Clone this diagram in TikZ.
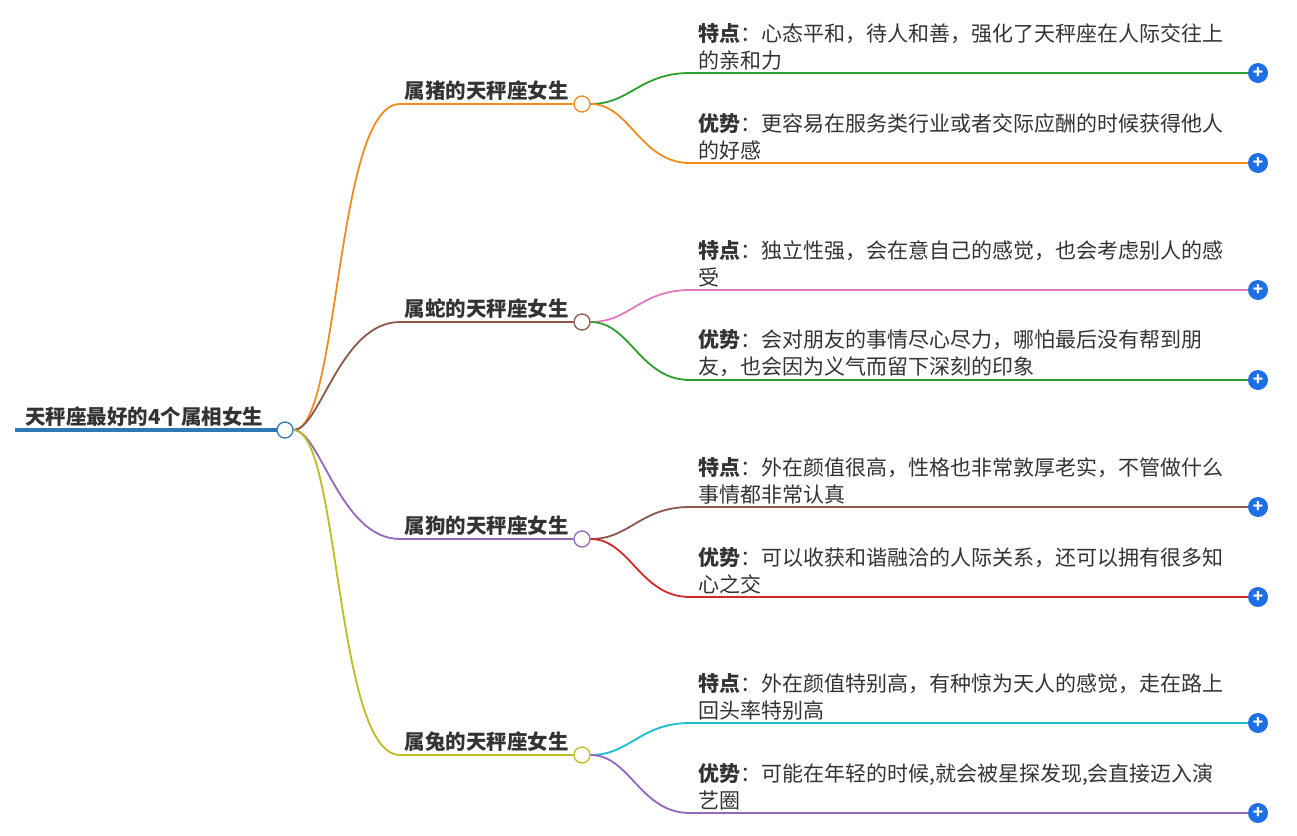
\documentclass[tikz,border=0pt]{standalone}
\usepackage{fontspec}
\setmainfont{Noto Sans CJK SC}
\usetikzlibrary{positioning}
\definecolor{txt}{HTML}{333333}
\definecolor{cblue}{HTML}{2F78B4}
\definecolor{corange}{HTML}{F08C1E}
\definecolor{cbrown}{HTML}{8C564B}
\definecolor{cpurple}{HTML}{9467BD}
\definecolor{colive}{HTML}{BCBD22}
\definecolor{cgreen}{HTML}{2CA02C}
\definecolor{cpink}{HTML}{E377C2}
\definecolor{cred}{HTML}{D62728}
\definecolor{ccyan}{HTML}{17BECF}
\definecolor{cplus}{HTML}{1E6FE6}
\tikzset{
  dot/.style={circle,draw=#1,fill=white,line width=1.3pt,minimum size=16pt,inner sep=0pt},
  cat/.style={font=\fontsize{20.5}{24}\selectfont\bfseries,text=txt,anchor=south east,inner sep=3pt},
  leaf/.style={font=\fontsize{21}{27}\selectfont,text=txt,anchor=south west,align=left,inner sep=0pt,yshift=3pt},
  plus/.style={circle,fill=cplus,minimum size=20pt,inner sep=0pt,text=white,font=\bfseries\fontsize{17}{17}\selectfont},
  edge/.style={line width=1.8pt,draw=#1}
}
\begin{document}
\begin{tikzpicture}[x=1pt,y=-1pt]
\useasboundingbox (0,0) rectangle (1297,835);
% root
\draw [line width=4pt,cblue] (15,430) -- (285,430);
\node[font=\fontsize{20.5}{24}\selectfont\bfseries,text=txt,anchor=south west,inner sep=3pt] (root_t) at (22,430) {天秤座最好的4个属相女生};
\node[dot=cblue] (root) at (285,430) {};
% categories
\node[dot=corange] (pig) at (582,104) {};
\node[dot=cbrown] (snake) at (582,322) {};
\node[dot=cpurple] (dog) at (582,539) {};
\node[dot=colive] (rabbit) at (582,755) {};
\node[cat] (pig_t) at (572,104) {属猪的天秤座女生};
\node[cat] (snake_t) at (572,322) {属蛇的天秤座女生};
\node[cat] (dog_t) at (572,539) {属狗的天秤座女生};
\node[cat] (rabbit_t) at (572,755) {属兔的天秤座女生};
\draw [edge=corange] (root.east) .. controls (340,430) and (335,104) .. (400,104) -- (pig.west);
\draw [edge=cbrown] (root.east) .. controls (320,430) and (340,322) .. (400,322) -- (snake.west);
\draw [edge=cpurple] (root.east) .. controls (320,430) and (340,539) .. (400,539) -- (dog.west);
\draw [edge=colive] (root.east) .. controls (340,430) and (335,755) .. (400,755) -- (rabbit.west);
% leaves
\foreach \nm/\y in {p1/73,p2/163,s1/290,s2/380,d1/507,d2/597,r1/723,r2/813}
  \node[plus] (\nm_plus) at (1258,\y) {+};
\node[leaf] (p1) at (698,73) {\textbf{特点}：心态平和，待人和善，强化了天秤座在人际交往上\\的亲和力};
\node[leaf] (p2) at (698,163) {\textbf{优势}：更容易在服务类行业或者交际应酬的时候获得他人\\的好感};
\node[leaf] (s1) at (698,290) {\textbf{特点}：独立性强，会在意自己的感觉，也会考虑别人的感\\受};
\node[leaf] (s2) at (698,380) {\textbf{优势}：会对朋友的事情尽心尽力，哪怕最后没有帮到朋\\友，也会因为义气而留下深刻的印象};
\node[leaf] (d1) at (698,507) {\textbf{特点}：外在颜值很高，性格也非常敦厚老实，不管做什么\\事情都非常认真};
\node[leaf] (d2) at (698,597) {\textbf{优势}：可以收获和谐融洽的人际关系，还可以拥有很多知\\心之交};
\node[leaf] (r1) at (698,723) {\textbf{特点}：外在颜值特别高，有种惊为天人的感觉，走在路上\\回头率特别高};
\node[leaf] (r2) at (698,813) {\textbf{优势}：可能在年轻的时候,就会被星探发现,会直接迈入演\\艺圈};
\draw [edge=cgreen] (pig.east) .. controls (630,104) and (640,73) .. (690,73) -- (p1_plus.west);
\draw [edge=corange] (pig.east) .. controls (630,104) and (640,163) .. (690,163) -- (p2_plus.west);
\draw [edge=cpink] (snake.east) .. controls (630,322) and (640,290) .. (690,290) -- (s1_plus.west);
\draw [edge=cgreen] (snake.east) .. controls (630,322) and (640,380) .. (690,380) -- (s2_plus.west);
\draw [edge=cbrown] (dog.east) .. controls (630,539) and (640,507) .. (690,507) -- (d1_plus.west);
\draw [edge=cred] (dog.east) .. controls (630,539) and (640,597) .. (690,597) -- (d2_plus.west);
\draw [edge=ccyan] (rabbit.east) .. controls (630,755) and (640,723) .. (690,723) -- (r1_plus.west);
\draw [edge=cpurple] (rabbit.east) .. controls (630,755) and (640,813) .. (690,813) -- (r2_plus.west);
\end{tikzpicture}
\end{document}
